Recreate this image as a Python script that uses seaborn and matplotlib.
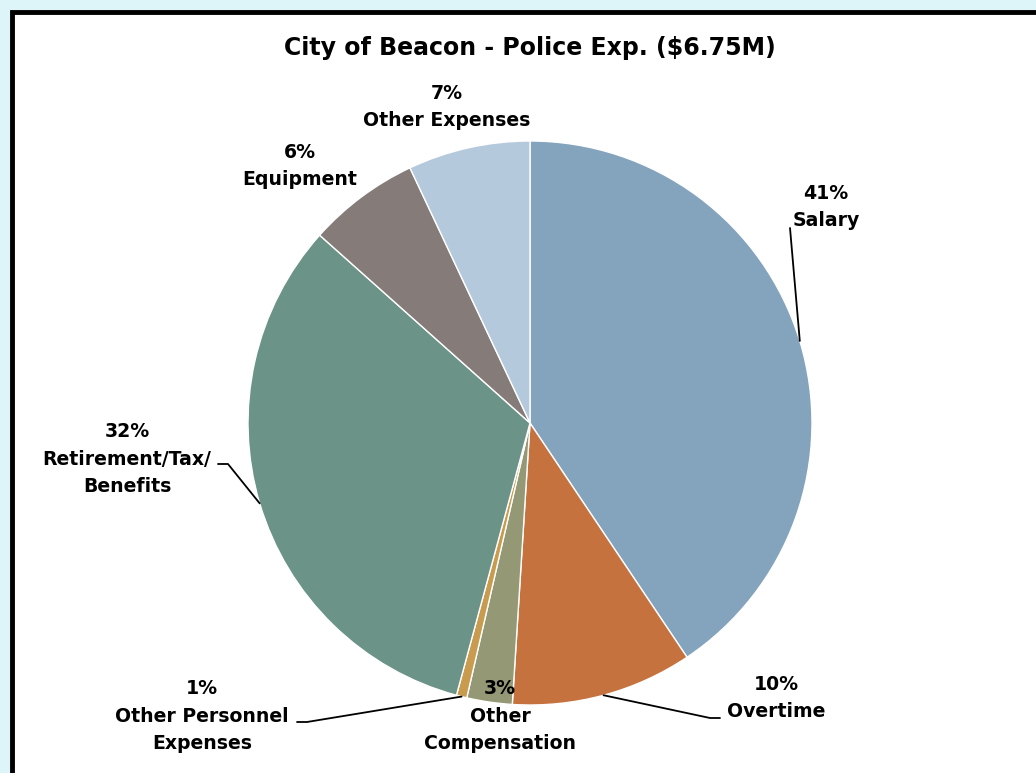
import numpy as np
import matplotlib
matplotlib.use("Agg")
import matplotlib.pyplot as plt
import seaborn as sns
from matplotlib.patches import Rectangle

# ---- data ----
categories = ["Salary", "Overtime", "Other\nCompensation", "Other Personnel\nExpenses",
              "Retirement/Tax/\nBenefits", "Equipment", "Other Expenses"]
shares = [40.6, 10.4, 2.6, 0.6, 32.4, 6.4, 7.0]
pct_labels = ["41%", "10%", "3%", "1%", "32%", "6%", "7%"]
title = "City of Beacon - Police Exp. ($6.75M)"
palette_hex = ["#84A3BC", "#C6723F", "#949875", "#C99B4E", "#6B9388", "#857B79", "#B5C9DC"]

sns.set_style("white")
plt.rcParams["font.family"] = ["DejaVu Sans"]

W, H = 1036, 773
cx, cy, R = 530, 423, 282
fig = plt.figure(figsize=(W / 100, H / 100), dpi=100)
fig.patch.set_facecolor("#DDF4F9")

bg = fig.add_axes([0, 0, 1, 1], zorder=0)
bg.set_xlim(0, W)
bg.set_ylim(H, 0)
bg.axis("off")
bg.add_patch(Rectangle((12, 12), W + 20, H + 20, facecolor="white", edgecolor="black", linewidth=3.5))

ax = fig.add_axes([0, 0, 1, 1], zorder=1)
ax.patch.set_alpha(0)

colors = sns.color_palette(palette_hex)
wedges, _ = ax.pie(shares, colors=colors, startangle=90, counterclock=False, radius=1,
                   wedgeprops=dict(edgecolor="white", linewidth=1))
ax.set_xlim(-cx / R, (W - cx) / R)
ax.set_ylim(-(H - cy) / R, cy / R)
ax.set_aspect("equal")
ax.axis("off")

def P(px, py):
    return ((px - cx) / R, (cy - py) / R)

# label centres (pixels) and leader-line elbows
label_pos = [(826, 207), (776, 698), (500, 716), (202, 716), (127, 459), (300, 166), (447, 107)]
leaders = {0: [(790, 228)], 1: [(720, 718), (710, 718)], 3: [(297, 722), (307, 722)],
           4: [(218, 464), (228, 464)]}

for i, (w, pl, cat) in enumerate(zip(wedges, pct_labels, categories)):
    x, y = P(*label_pos[i])
    ax.text(x, y, f"{pl}\n{cat}", ha="center", va="center", fontsize=13.6,
            fontweight="bold", linespacing=1.58, color="black")
    if i in leaders:
        th = np.deg2rad((w.theta1 + w.theta2) / 2)
        ex, ey = np.cos(th), np.sin(th)
        pts = [P(*p) for p in leaders[i]] + [(ex, ey)]
        ax.plot([p[0] for p in pts], [p[1] for p in pts], color="black", lw=1.3)

ax.text(0, (cy - 48) / R, title, ha="center", va="center", fontsize=17, fontweight="bold",
        color="black")

fig.savefig("out.png", dpi=100)
